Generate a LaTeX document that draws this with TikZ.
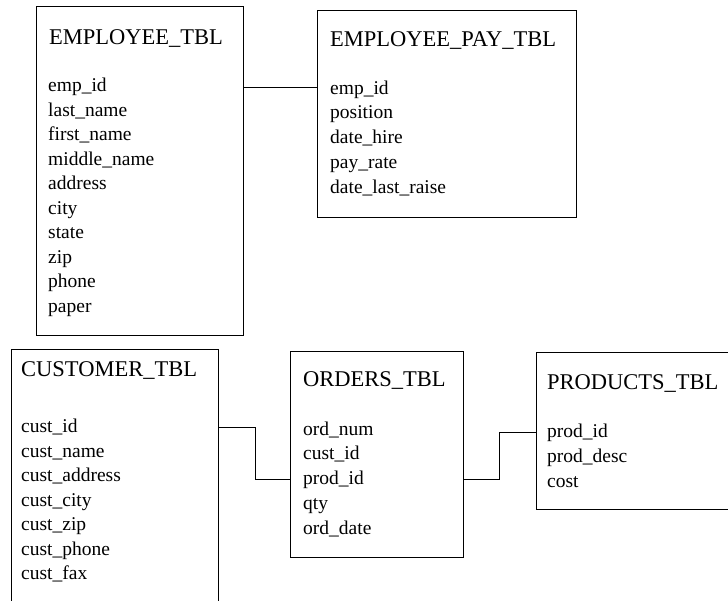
\documentclass[tikz,border=0pt]{standalone}
\usepackage{fontspec}
\setmainfont{Liberation Serif}
\tikzset{
    tbl/.style={draw, rectangle, anchor=north west, line width=1.1pt, inner sep=0pt},
    tblname/.style={anchor=base west, inner sep=0pt, font=\fontsize{22.5}{24}\selectfont},
    field/.style={anchor=base west, inner sep=0pt, font=\fontsize{19.5}{24}\selectfont},
    link/.style={line width=1pt},
}

\begin{document}
\begin{tikzpicture}[x=1pt, y=-1pt]
          \useasboundingbox (0,0) rectangle (728,601);
          \clip (0,0) rectangle (728,601);

          % table boxes
          \node[tbl, minimum width=207, minimum height=329] (emp) at (36,6) {};
          \node[tbl, minimum width=259, minimum height=207] (pay) at (317,10) {};
          \node[tbl, minimum width=207, minimum height=280] (cust) at (11,349) {};
          \node[tbl, minimum width=173, minimum height=206] (ord) at (290,351) {};
          \node[tbl, minimum width=215, minimum height=157] (prod) at (536,352) {};

          % table names
          \node[tblname] (emp-name) at ([shift={(13,39)}]emp.north west) {EMPLOYEE\_TBL};
          \node[tblname] (pay-name) at ([shift={(13,37)}]pay.north west) {EMPLOYEE\_PAY\_TBL};
          \node[tblname] (cust-name) at ([shift={(10,28)}]cust.north west) {CUSTOMER\_TBL};
          \node[tblname] (ord-name) at ([shift={(13,36)}]ord.north west) {ORDERS\_TBL};
          \node[tblname] (prod-name) at ([shift={(11,37)}]prod.north west) {PRODUCTS\_TBL};

          % columns
          \foreach \f [count=\i] in {emp\_id, last\_name, first\_name, middle\_name, address, city, state, zip, phone, paper}
              \node[field] (emp-f\i) at ([shift={(12,{85.7+24.5*(\i-1)})}]emp.north west) {\f};
          \foreach \f [count=\i] in {emp\_id, position, date\_hire, pay\_rate, date\_last\_raise}
              \node[field] (pay-f\i) at ([shift={(13,{84.3+24.7*(\i-1)})}]pay.north west) {\f};
          \foreach \f [count=\i] in {cust\_id, cust\_name, cust\_address, cust\_city, cust\_zip, cust\_phone, cust\_fax}
              \node[field] (cust-f\i) at ([shift={(10,{83.7+24.5*(\i-1)})}]cust.north west) {\f};
          \foreach \f [count=\i] in {ord\_num, cust\_id, prod\_id, qty, ord\_date}
              \node[field] (ord-f\i) at ([shift={(13,{84+24.75*(\i-1)})}]ord.north west) {\f};
          \foreach \f [count=\i] in {prod\_id, prod\_desc, cost}
              \node[field] (prod-f\i) at ([shift={(11,{85+25*(\i-1)})}]prod.north west) {\f};

          % relations
          \draw[link] (emp.east |- emp-f1) -- (pay.west |- emp-f1);
          \draw[link] (cust.east |- cust-f1) -- ++(36,0) |- (ord.west |- ord-f3);
          \draw[link] (ord.east |- ord-f3) -- ++(35,0) |- (prod.west |- prod-f1);

\end{tikzpicture}
\end{document}
